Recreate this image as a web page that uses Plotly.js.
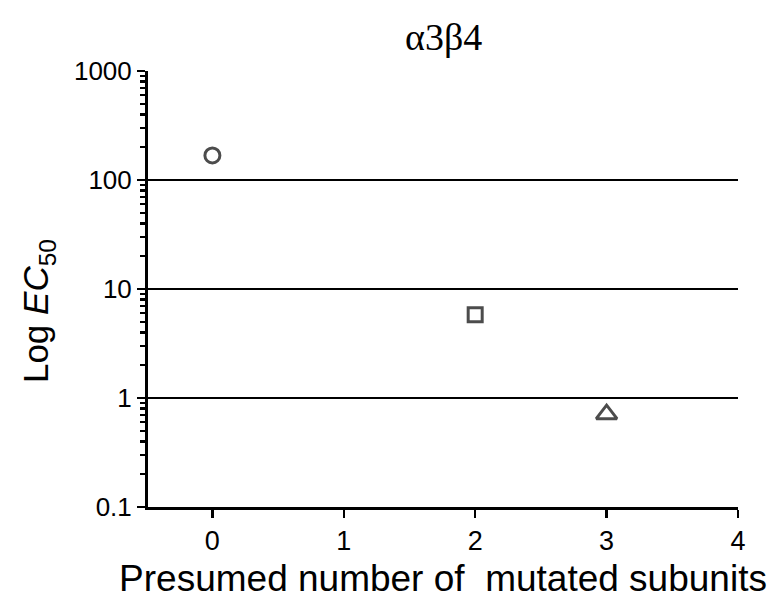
<!DOCTYPE html>
<html>
<head>
<meta charset="utf-8">
<script src="https://cdn.plot.ly/plotly-3.0.1.min.js"></script>
<style>html,body{margin:0;padding:0;background:#fff;}</style>
</head>
<body>
<div id="chart" style="width:777px;height:605px;"></div>
<script>
const subunits = [0, 2, 3];
const ec50 = [168, 5.8, 0.71];
const symbols = ['circle-open', 'square-open', 'triangle-up-open'];
const yTickVals = [0.1, 1, 10, 100, 1000];
const yTickText = ['0.1', '1', '10', '100', '1000'];
const xTickVals = [0, 1, 2, 3, 4];
const yTitle = 'Log <i>EC</i><sub>50</sub>';

const minorVals = [];
for (let d = -1; d < 3; d++) {
  for (let k = 2; k <= 9; k++) minorVals.push(k * Math.pow(10, d));
}

const trace = {
  x: subunits,
  y: ec50,
  mode: 'markers',
  type: 'scatter',
  marker: {
    symbol: symbols,
    size: [15, 14, 18],
    color: '#000',
    line: {color: '#000', width: 3}
  },
  showlegend: false,
  hoverinfo: 'x+y'
};

const layout = {
  width: 777,
  height: 605,
  margin: {l: 148, r: 39, t: 71, b: 98},
  paper_bgcolor: '#fff',
  plot_bgcolor: '#fff',
  title: {
    text: 'α3β4',
    font: {family: 'Liberation Serif, Times New Roman, serif', size: 38, color: '#000'},
    x: 0.571, xanchor: 'center',
    y: 0.94, yanchor: 'middle'
  },
  xaxis: {
    range: [-0.49, 4],
    tickvals: xTickVals,
    ticktext: xTickVals.map(String),
    ticks: 'outside',
    ticklen: 8,
    tickwidth: 2.5,
    tickcolor: '#000',
    showline: true,
    linewidth: 3,
    linecolor: '#000',
    showgrid: false,
    zeroline: false,
    tickfont: {family: 'Liberation Sans, Arial, sans-serif', size: 27, color: '#000'},
    title: {
      text: 'Presumed number of  mutated subunits',
      font: {family: 'Liberation Sans, Arial, sans-serif', size: 37, color: '#000'},
      standoff: 10
    }
  },
  yaxis: {
    type: 'log',
    range: [-1, 3],
    tickvals: yTickVals,
    ticktext: yTickText,
    ticks: 'outside',
    ticklen: 8,
    tickwidth: 2.5,
    tickcolor: '#000',
    showline: true,
    linewidth: 3,
    linecolor: '#000',
    showgrid: true,
    gridcolor: '#000',
    gridwidth: 1.2,
    zeroline: false,
    tickfont: {family: 'Liberation Sans, Arial, sans-serif', size: 26, color: '#000'},
    minor: {
      tickvals: minorVals,
      ticks: 'outside',
      ticklen: 5,
      tickwidth: 2.5,
      tickcolor: '#000',
      showgrid: false
    }
  },
  annotations: [{
    text: yTitle,
    xref: 'paper', yref: 'paper',
    x: -0.186, y: 0.45,
    xanchor: 'center', yanchor: 'middle',
    textangle: -90,
    showarrow: false,
    font: {family: 'Liberation Sans, Arial, sans-serif', size: 35, color: '#000'}
  }]
};

Plotly.newPlot('chart', [trace], layout, {displayModeBar: false, staticPlot: true});
</script>
</body>
</html>
